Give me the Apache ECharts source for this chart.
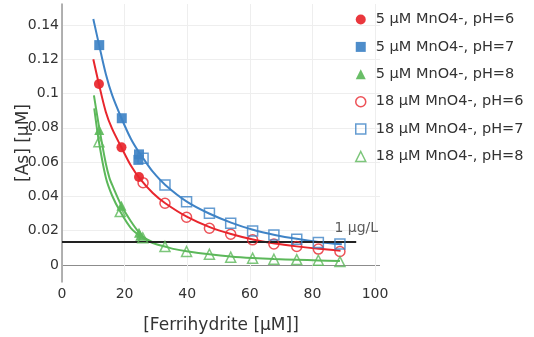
<!DOCTYPE html>
<html>
<head>
<meta charset="utf-8">
<script src="https://cdn.jsdelivr.net/npm/echarts@6/dist/echarts.min.js"></script>
<style>
  html, body { margin: 0; padding: 0; background: #fff; }
  #chart { width: 534px; height: 337px; }
</style>
</head>
<body>
<div id="chart"></div>
<script>
const red5X = [11.8, 19.0, 24.6];
const red5Y = [0.1056, 0.0686, 0.0513];
const blue5X = [11.9, 19.1, 24.6, 24.4];
const blue5Y = [0.1283, 0.0856, 0.0645, 0.0613];
const green5X = [11.9, 19.0, 24.6, 25.0];
const green5Y = [0.0788, 0.0345, 0.0188, 0.017];

const red18X = [25.9, 32.9, 39.8, 47.1, 53.9, 60.9, 67.7, 75.0, 81.9, 88.8];
const red18Y = [0.048, 0.036, 0.0278, 0.0214, 0.0179, 0.0146, 0.0122, 0.0107, 0.0092, 0.0078];
const blue18X = [25.9, 32.9, 39.8, 47.1, 53.9, 60.9, 67.7, 75.0, 81.9, 88.8];
const blue18Y = [0.0622, 0.0467, 0.0368, 0.0302, 0.0243, 0.0198, 0.0175, 0.015, 0.013, 0.0122];
const green18X = [11.8, 18.6, 25.8, 32.9, 39.8, 47.1, 53.9, 60.9, 67.7, 75.0, 81.9, 88.8];
const green18Y = [0.0719, 0.0311, 0.0158, 0.0107, 0.0078, 0.0062, 0.0045, 0.0039, 0.0033, 0.0031, 0.0027, 0.0019];

/** fitted curves */
const redFitX = [10, 11.8, 14, 16, 19, 22, 25, 29, 33, 40, 47, 54, 61, 68, 75, 82, 89];
const redFitY = [0.12, 0.1055, 0.0893, 0.0795, 0.0685, 0.058, 0.05, 0.042, 0.036, 0.028, 0.0222, 0.018, 0.0148, 0.0125, 0.0108, 0.0094, 0.0083];
const blueFitX = [10, 11.9, 14, 16, 19, 22, 24.6, 26, 29, 33, 40, 47, 54, 61, 68, 75, 82, 89.4];
const blueFitY = [0.1435, 0.128, 0.1114, 0.0992, 0.0856, 0.0736, 0.0656, 0.062, 0.0544, 0.0467, 0.0368, 0.03, 0.0247, 0.0205, 0.0175, 0.0152, 0.0134, 0.012];
const green5FitX = [10.2, 11.9, 14, 15.2, 16, 19, 22, 24.6, 27, 30];
const green5FitY = [0.099, 0.08, 0.0592, 0.0505, 0.0468, 0.0345, 0.0255, 0.019, 0.015, 0.0125];
const green18FitX = [10.3, 11.8, 14, 16, 18.6, 22, 25.8, 29, 32.9, 36, 39.8, 47.1, 53.9, 60.9, 67.7, 75, 81.9, 88.8];
const green18FitY = [0.0914, 0.0719, 0.051, 0.0405, 0.0311, 0.0215, 0.0158, 0.0128, 0.0107, 0.0092, 0.008, 0.0062, 0.0049, 0.004, 0.0034, 0.003, 0.0026, 0.0022];

/** 1 µg/L limit line */
const limitX = [0, 94];
const limitY = [0.01335, 0.01335];
const limitLabel = "1 μg/L";

/** axes */
const xTicks = [0, 20, 40, 60, 80, 100];
const yTicks = [0, 0.02, 0.04, 0.06, 0.08, 0.1, 0.12, 0.14];

const names = [
  "5 μM MnO4-, pH=6",
  "5 μM MnO4-, pH=7",
  "5 μM MnO4-, pH=8",
  "18 μM MnO4-, pH=6",
  "18 μM MnO4-, pH=7",
  "18 μM MnO4-, pH=8",
];

const RED = "#e8262d";
const BLUE = "#3f83c6";
const GREEN = "#5cb85a";
const FONT = "DejaVu Sans";

const zip = (xs, ys) => xs.map((x, i) => [x, ys[i]]);

const fit = (xs, ys, color) => ({
  type: "line",
  data: zip(xs, ys),
  smooth: 0.3,
  symbol: "none",
  silent: true,
  lineStyle: { color, width: 2 },
  z: 2,
});

const filled = (name, xs, ys, symbol, color) => ({
  name,
  type: "scatter",
  data: zip(xs, ys),
  symbol,
  symbolSize: 10,
  itemStyle: { color, opacity: 0.92 },
  z: 4,
});

const open = (name, xs, ys, symbol, color) => ({
  name,
  type: "scatter",
  data: zip(xs, ys),
  symbol,
  symbolSize: 10,
  itemStyle: { color: "rgba(255,255,255,0)", borderColor: color, borderWidth: 1.5 },
  z: 3,
});

const chart = echarts.init(document.getElementById("chart"), null, { renderer: "canvas" });

const option = {
  animation: false,
  textStyle: { fontFamily: FONT },
  grid: { left: 62, right: 154, top: 4, bottom: 55, outerBoundsMode: "none" },
  xAxis: {
    type: "value",
    min: 0,
    max: 101.6,
    axisLine: { show: false },
    axisTick: { show: false, customValues: xTicks },
    axisLabel: {
      customValues: xTicks,
      margin: 5,
      color: "#333",
      fontSize: 14,
      fontFamily: FONT,
    },
    splitLine: { lineStyle: { color: "#eeeeee", width: 1 } },
    name: "[Ferrihydrite [μM]]",
    nameLocation: "middle",
    nameGap: 35,
    nameMoveOverlap: false,
    nameTextStyle: { color: "#333", fontSize: 17, fontFamily: FONT },
  },
  yAxis: {
    type: "value",
    min: -0.01,
    max: 0.1523,
    axisLine: { show: true, onZero: false, lineStyle: { color: "#999", width: 1.5 } },
    axisTick: { show: false, customValues: yTicks },
    axisLabel: {
      customValues: yTicks,
      margin: 3,
      color: "#333",
      fontSize: 14,
      fontFamily: FONT,
    },
    splitLine: {
      lineStyle: {
        /** first line is the zero line */
        color: ["#8c8c8c", "#eeeeee", "#eeeeee", "#eeeeee", "#eeeeee", "#eeeeee", "#eeeeee", "#eeeeee"],
        width: 1,
      },
    },
    name: "[As] [μM]",
    nameLocation: "middle",
    nameGap: 30,
    nameMoveOverlap: false,
    nameTextStyle: { color: "#333", fontSize: 17, fontFamily: FONT },
  },
  legend: {
    orient: "vertical",
    left: 350,
    top: 7,
    itemWidth: 10,
    itemHeight: 10,
    itemGap: 12.4,
    textStyle: {
      color: "#333",
      fontSize: 14.5,
      fontFamily: FONT,
      lineHeight: 14,
      padding: [0, 0, 0, 5],
    },
    data: names.map((name, i) =>
      i < 3 ? { name } : { name, itemStyle: { borderWidth: 1.5 } },
    ),
  },
  series: [
    fit(redFitX, redFitY, RED),
    fit(blueFitX, blueFitY, BLUE),
    fit(green5FitX, green5FitY, GREEN),
    fit(green18FitX, green18FitY, GREEN),
    {
      type: "line",
      data: zip(limitX, limitY),
      symbol: "none",
      silent: true,
      lineStyle: { color: "#222", width: 2 },
      z: 3,
    },
    {
      type: "scatter",
      data: [[limitX[1], limitY[1]]],
      symbolSize: 0,
      silent: true,
      label: {
        show: true,
        position: "top",
        distance: 7,
        formatter: limitLabel,
        color: "#333",
        fontSize: 14,
        fontFamily: FONT,
      },
    },
    filled(names[0], red5X, red5Y, "circle", RED),
    filled(names[1], blue5X, blue5Y, "rect", BLUE),
    filled(names[2], green5X, green5Y, "triangle", GREEN),
    open(names[3], red18X, red18Y, "circle", RED),
    open(names[4], blue18X, blue18Y, "rect", BLUE),
    open(names[5], green18X, green18Y, "triangle", GREEN),
  ],
};

chart.setOption(option);
</script>
</body>
</html>
